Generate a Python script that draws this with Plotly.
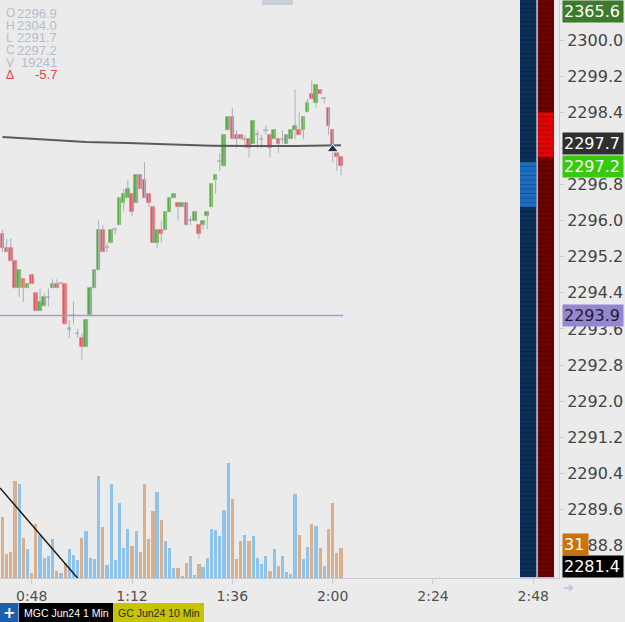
import plotly.graph_objects as go
from datetime import datetime, timedelta

# ---------------- data ----------------
opens = [2295.7, 2295.4, 2295.4, 2295.1, 2294.5, 2294.7, 2294.5, 2294.8, 2294.4, 2294.0,
         2294.1, 2294.3, 2294.5, 2294.6, 2294.6, 2294.6, 2293.6, 2293.9, 2293.5, 2293.4,
         2293.2, 2293.9, 2294.5, 2294.9, 2295.8, 2295.4, 2295.5, 2295.8, 2295.9, 2296.4,
         2296.5, 2296.6, 2296.4, 2297.0, 2296.9, 2296.6, 2296.3, 2295.5, 2295.8, 2295.8,
         2296.2, 2296.5, 2296.4, 2296.3, 2296.4, 2296.0, 2296.0, 2295.9, 2295.9, 2296.1,
         2296.3, 2296.9, 2297.3, 2297.2, 2298.0, 2298.3, 2297.9, 2297.9, 2297.8, 2297.8,
         2297.7, 2297.9, 2297.8, 2298.0, 2297.9, 2297.8, 2297.8, 2297.8, 2297.7, 2297.8,
         2298.0, 2298.0, 2298.0, 2298.4, 2298.8, 2298.6, 2298.9, 2298.7, 2298.5, 2298.0,
         2297.5, 2297.4]
highs = [2295.8, 2295.6, 2295.6, 2295.1, 2294.9, 2294.7, 2294.6, 2294.8, 2294.4, 2294.5,
         2294.4, 2294.5, 2294.7, 2294.7, 2294.6, 2294.6, 2293.8, 2294.2, 2293.6, 2293.5,
         2293.8, 2294.5, 2294.9, 2296.0, 2295.9, 2295.5, 2295.8, 2295.8, 2296.5, 2296.7,
         2296.9, 2296.6, 2297.0, 2297.0, 2297.3, 2296.6, 2296.3, 2295.8, 2296.0, 2296.2,
         2296.5, 2296.6, 2296.4, 2296.4, 2296.4, 2296.1, 2296.2, 2295.9, 2296.0, 2296.2,
         2296.8, 2297.0, 2297.5, 2297.9, 2298.3, 2298.5, 2298.0, 2297.9, 2297.9, 2297.8,
         2298.2, 2298.0, 2297.9, 2298.1, 2297.9, 2298.0, 2297.8, 2298.0, 2297.9, 2298.0,
         2298.9, 2298.4, 2298.3, 2298.7, 2299.1, 2299.0, 2298.9, 2298.7, 2298.5, 2298.0,
         2297.5, 2297.4]
lows = [2295.3, 2295.3, 2295.1, 2294.5, 2294.3, 2294.2, 2294.5, 2294.6, 2294.0, 2294.0,
        2294.1, 2294.1, 2294.5, 2294.5, 2294.6, 2293.7, 2293.4, 2293.7, 2293.4, 2292.9,
        2293.2, 2293.9, 2294.5, 2294.9, 2295.3, 2295.3, 2295.5, 2295.7, 2295.9, 2296.2,
        2296.5, 2296.1, 2296.4, 2296.7, 2296.5, 2296.3, 2295.5, 2295.4, 2295.5, 2295.8,
        2296.2, 2296.5, 2296.0, 2296.3, 2295.9, 2295.9, 2296.0, 2295.6, 2295.8, 2295.8,
        2296.3, 2296.6, 2297.1, 2297.2, 2298.0, 2297.8, 2297.6, 2297.8, 2297.6, 2297.4,
        2297.7, 2297.6, 2297.6, 2297.9, 2297.4, 2297.8, 2297.5, 2297.7, 2297.7, 2297.8,
        2297.8, 2297.9, 2297.8, 2298.4, 2298.7, 2298.5, 2298.8, 2298.6, 2297.9, 2297.3,
        2297.1, 2297.0]
closes = [2295.4, 2295.3, 2295.1, 2294.5, 2294.9, 2294.5, 2294.6, 2294.6, 2294.0, 2294.2,
          2294.3, 2294.3, 2294.6, 2294.5, 2294.6, 2293.7, 2293.6, 2293.9, 2293.5, 2293.2,
          2293.8, 2294.5, 2294.9, 2295.8, 2295.3, 2295.4, 2295.8, 2295.8, 2296.5, 2296.6,
          2296.7, 2296.2, 2297.0, 2296.7, 2296.5, 2296.4, 2295.5, 2295.8, 2295.7, 2296.2,
          2296.5, 2296.6, 2296.3, 2296.4, 2295.9, 2296.0, 2296.2, 2295.7, 2296.0, 2296.2,
          2296.8, 2297.0, 2297.3, 2297.9, 2298.3, 2297.8, 2297.8, 2297.8, 2297.8, 2297.6,
          2298.2, 2297.9, 2297.8, 2298.0, 2297.6, 2298.0, 2297.7, 2297.8, 2297.9, 2298.0,
          2298.1, 2297.9, 2298.3, 2298.6, 2298.7, 2299.0, 2298.8, 2298.7, 2298.1, 2297.6,
          2297.4, 2297.2]
volumes = [61, 24, 26, 97, 94, 40, 29, 5, 54, 43, 20, 22, 39, 7, 5, 15, 29, 23, 18, 40,
           47, 20, 19, 102, 51, 13, 94, 18, 75, 30, 49, 32, 47, 26, 94, 39, 67, 86, 58, 37,
           30, 10, 10, 2, 15, 22, 3, 14, 11, 20, 49, 48, 42, 68, 115, 79, 19, 37, 43, 37,
           42, 20, 14, 22, 7, 29, 12, 22, 6, 4, 84, 43, 19, 31, 54, 52, 30, 12, 49, 75,
           25, 30]
first_bar = datetime(2024, 5, 20, 0, 41)

ma_idx = [0, 10, 20, 30, 40, 50, 60, 70, 81]
ma_values = [2297.85, 2297.79, 2297.74, 2297.72, 2297.69, 2297.66, 2297.65, 2297.65, 2297.67]

level_price = 2293.9
level_span = ["2024-05-20 00:40:25", "2024-05-20 02:02:30"]
trend_times = ["2024-05-20 00:40:25", "2024-05-20 00:59:00"]
trend_prices = [2290.08, 2288.08]
fill_time = ["2024-05-20 02:00:00"]
fill_price = [2297.58]

x_range = ["2024-05-20 00:40:25", "2024-05-20 02:54:09"]
y_range = [2288.084, 2300.886]
ask_band = [2297.4, 2298.4]
bid_band = [2296.3, 2297.3]

info_labels = ["O", "H", "L", "C", "V", "Δ"]
info_values = ["2296.9", "2304.0", "2291.7", "2297.2", "19241", "-5.7"]
ma_label = "2297.7"
last_label = "2297.2"
level_label = "2293.9"
top_label = "2365.6"
bottom_label = "2281.4"
count_label = "31"
tab_labels = ["MGC Jun24 1 Min", "GC Jun24 10 Min"]

# ---------------- styling ----------------
W, H = 625, 622
PW, PH = 559, 578
BG = "#ebebeb"
AX = "#c4cddb"
UP, DN, DOJI = "#58a940", "#e5545a", "#a3a9b3"
UP_E, DN_E, DOJI_E = "#7dbd69", "#ec8184", "#b3b8c0"
WICK = "#a9b0bb"
VUP, VDN = "#8ec3eb", "#d9b08b"


def px(xp):
    return xp / PW


def py(yp):
    return (PH - yp) / PH


times = [first_bar + timedelta(minutes=i) for i in range(len(opens))]

wx, wy = [], []
for t, h, l in zip(times, highs, lows):
    wx += [t, t, None]
    wy += [l, h, None]

b_base, b_h, b_col, b_edge = [], [], [], []
for o, c in zip(opens, closes):
    if c > o:
        b_col.append(UP)
        b_edge.append(UP_E)
    elif c < o:
        b_col.append(DN)
        b_edge.append(DN_E)
    else:
        b_col.append(DOJI)
        b_edge.append(DOJI_E)
    if abs(c - o) < 1e-9:
        b_base.append(o - 0.012)
        b_h.append(0.024)
    else:
        b_base.append(min(o, c))
        b_h.append(abs(c - o))

v_col = [VUP if c >= o else VDN for o, c in zip(opens, closes)]

fig = go.Figure()
fig.add_trace(go.Bar(x=times, y=volumes, width=46000, marker=dict(color=v_col, line=dict(width=0)),
                     yaxis="y", hoverinfo="skip"))
fig.add_trace(go.Scatter(x=wx, y=wy, mode="lines", line=dict(color=WICK, width=1),
                         yaxis="y2", hoverinfo="skip"))
fig.add_trace(go.Bar(x=times, y=b_h, base=b_base, width=52000,
                     marker=dict(color=b_col, line=dict(width=0.8, color=b_edge)),
                     yaxis="y2", hoverinfo="skip"))
fig.add_trace(go.Scatter(x=[times[i] for i in ma_idx], y=ma_values, mode="lines",
                         line=dict(color="#5b5b5b", width=2), yaxis="y2", hoverinfo="skip"))
fig.add_trace(go.Scatter(x=level_span, y=[level_price, level_price], mode="lines",
                         line=dict(color="#a29ad8", width=1.5), yaxis="y2", hoverinfo="skip"))
fig.add_trace(go.Scatter(x=trend_times, y=trend_prices, mode="lines",
                         line=dict(color="#1a1a1a", width=1.5), yaxis="y2", hoverinfo="skip"))
fig.add_trace(go.Scatter(x=fill_time, y=fill_price, mode="markers",
                         marker=dict(symbol="triangle-up", size=10, color="#1c3357",
                                     line=dict(color="white", width=1)),
                         yaxis="y2", hoverinfo="skip"))

shapes = []
# DOM columns
shapes.append(dict(type="rect", xref="paper", yref="paper", x0=px(520), x1=px(536.5),
                   y0=py(577), y1=1, fillcolor="#0b2f57", line=dict(width=0), layer="above"))
shapes.append(dict(type="rect", xref="paper", yref="paper", x0=px(538), x1=px(554),
                   y0=py(577), y1=1, fillcolor="#6c0203", line=dict(width=0), layer="above"))
shapes.append(dict(type="rect", xref="paper", yref="y2", x0=px(520), x1=px(536.5),
                   y0=bid_band[0], y1=bid_band[1], fillcolor="#1b6dbf", line=dict(width=0), layer="above"))
shapes.append(dict(type="rect", xref="paper", yref="y2", x0=px(538), x1=px(554),
                   y0=ask_band[0], y1=ask_band[1], fillcolor="#e10404", line=dict(width=0), layer="above"))
for k in range(1, 129):
    p = round(2288.0 + 0.1 * k, 1)
    shapes.append(dict(type="line", xref="paper", yref="y2", x0=px(520), x1=px(554), y0=p, y1=p,
                       line=dict(color="rgba(0,0,0,0.22)", width=1), layer="above"))
shapes.append(dict(type="line", xref="paper", yref="paper", x0=px(537.3), x1=px(537.3),
                   y0=py(577), y1=1, line=dict(color="#9fb1c6", width=1.5), layer="above"))
# top handle
shapes.append(dict(type="rect", xref="paper", yref="paper", x0=px(262), x1=px(293),
                   y0=py(5), y1=1, fillcolor="#c9ced8", line=dict(width=0), layer="above"))
# tabs
shapes.append(dict(type="rect", xref="paper", yref="paper", x0=px(0), x1=px(18.5),
                   y0=py(622), y1=py(603), fillcolor="#1c5ea8", line=dict(width=0)))
shapes.append(dict(type="rect", xref="paper", yref="paper", x0=px(19), x1=px(113),
                   y0=py(622), y1=py(603), fillcolor="#000000", line=dict(width=0)))
shapes.append(dict(type="rect", xref="paper", yref="paper", x0=px(113), x1=px(204),
                   y0=py(622), y1=py(603), fillcolor="#c6c300", line=dict(width=0)))

ann = []
F16 = dict(family="DejaVu Sans", size=16)
for i, (lab, val) in enumerate(zip(info_labels, info_values)):
    col = "#e84343" if lab == "Δ" else "#b5bdcc"
    yc = 13.3 + 12.3 * i
    ann.append(dict(xref="paper", yref="paper", x=px(4), y=py(yc), xanchor="left", yanchor="middle",
                    text=lab, showarrow=False, font=dict(family="Liberation Sans", size=12, color=col)))
    ann.append(dict(xref="paper", yref="paper", x=px(59), y=py(yc), xanchor="right", yanchor="middle",
                    text=val, showarrow=False, font=dict(family="Liberation Sans", size=13, color=col)))


def box(text, bg, fg, y, yref="y2", yanchor="middle", yshift=0, width=58):
    return dict(xref="paper", yref=yref, x=px(562), y=y, xanchor="left", yanchor=yanchor,
                yshift=yshift, text=text, showarrow=False, bgcolor=bg, borderpad=1, width=width,
                align="left", font=dict(color=fg, **F16))


ann.append(box(top_label, "#3d7b2c", "white", 1, yref="paper", yanchor="top"))
ann.append(box(ma_label, "#2f2f2f", "white", float(ma_label)))
ann.append(box(last_label, "#36c90c", "white", float(last_label)))
ann.append(box(level_label, "#9585d3", "#1e1e1e", float(level_label)))
ann.append(box(bottom_label, "#000000", "white", 0, yref="paper", yanchor="bottom"))
ann.append(box(count_label, "#c9730f", "white", 0, yref="paper", yanchor="bottom", yshift=22, width=23))

ann.append(dict(xref="paper", yref="paper", x=px(561), y=py(587), xanchor="left", yanchor="middle",
                text="➔", showarrow=False, font=dict(family="DejaVu Sans", size=13, color="#b8c3d7")))
ann.append(dict(xref="paper", yref="paper", x=px(9.2), y=py(612.5), xanchor="center", yanchor="middle",
                text="<b>+</b>", showarrow=False, font=dict(family="DejaVu Sans", size=15, color="white")))
ann.append(dict(xref="paper", yref="paper", x=px(66), y=py(612.5), xanchor="center", yanchor="middle",
                text=tab_labels[0], showarrow=False,
                font=dict(family="Liberation Sans", size=10.5, color="white")))
ann.append(dict(xref="paper", yref="paper", x=px(158.5), y=py(612.5), xanchor="center", yanchor="middle",
                text=tab_labels[1], showarrow=False,
                font=dict(family="Liberation Sans", size=10.5, color="#2a2a2a")))

fig.update_layout(
    width=W, height=H,
    margin=dict(l=0, r=W - PW, t=0, b=H - PH, pad=0),
    paper_bgcolor=BG, plot_bgcolor=BG,
    showlegend=False, barmode="overlay", bargap=0,
    xaxis=dict(type="date", range=x_range, tickformat="%-H:%M", dtick=24 * 60 * 1000,
               tick0="2024-05-20 00:00:00", ticks="outside", ticklen=5, tickcolor=AX,
               showline=True, linecolor=AX, linewidth=1, showgrid=False, zeroline=False,
               tickfont=dict(family="DejaVu Sans", size=14, color="#505050")),
    yaxis=dict(range=[0, PH], visible=False),
    yaxis2=dict(overlaying="y", side="right", range=y_range, dtick=0.8, tick0=2288.8,
                tickformat=".1f", ticks="outside", ticklen=4, tickcolor=AX, showline=True,
                linecolor=AX, linewidth=1, showgrid=False, zeroline=False,
                tickfont=dict(family="DejaVu Sans", size=16, color="#444444")),
    shapes=shapes, annotations=ann,
)

fig.write_html("out.html", config={"displayModeBar": False})
